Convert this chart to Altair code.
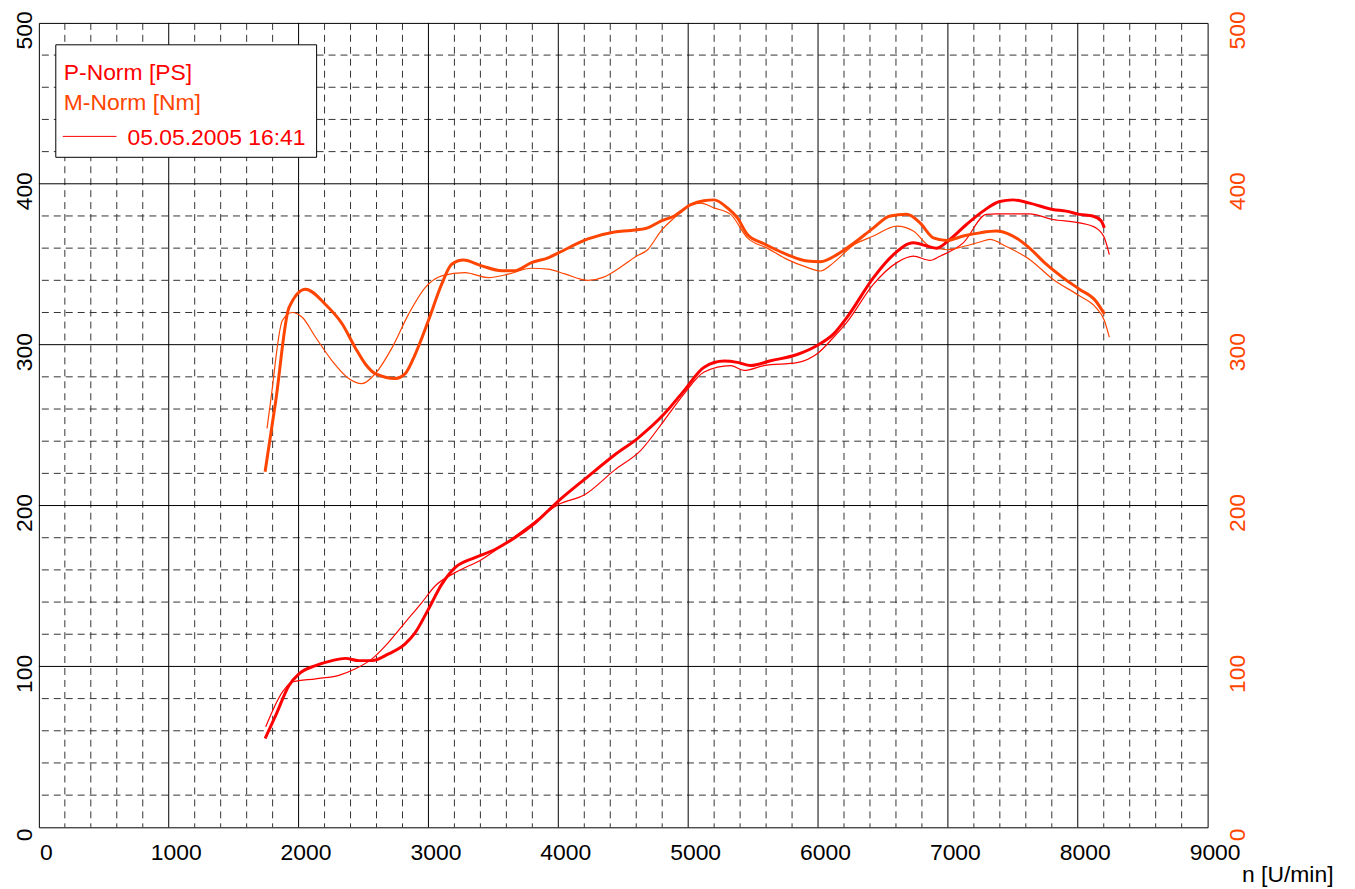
import altair as alt
import pandas as pd

FONT = "Liberation Sans"
RED = "#FF0000"
ORANGE = "#FF4500"

# ---- data ----
rpm_p_thick = [1742, 1824, 1926, 2003, 2131, 2258, 2360, 2463, 2565, 2693, 2821, 2898, 3000, 3102, 3205,
               3358, 3512, 3665, 3818, 3998, 4228, 4433, 4611, 4816, 4970, 5123, 5277, 5379, 5481, 5635,
               5839, 5993, 6120, 6223, 6427, 6581, 6734, 6837, 6913, 7015, 7143, 7271, 7399, 7501, 7629,
               7808, 7910, 8012, 8115, 8179, 8205]
p_thick = [55.2, 69.6, 88.2, 95.4, 100.5, 103.6, 105, 103.6, 103.6, 107.8, 114, 121, 135.6, 151, 161.4,
           167.6, 172.7, 180, 189, 202.6, 218, 231.4, 241.8, 257, 271.6, 286, 289.8, 289, 287, 290,
           293.9, 299.5, 306.7, 317, 341.7, 356, 363.3, 361.3, 360, 365.4, 374.7, 383, 389, 390, 388,
           384, 383, 381, 380, 377, 372.6]

rpm_p_thin = [1747, 1875, 1951, 2131, 2310, 2437, 2565, 2693, 2821, 2949, 3051, 3205, 3410, 3614, 3818,
              3998, 4202, 4433, 4637, 4816, 4970, 5123, 5327, 5430, 5584, 5839, 5993, 6120, 6223, 6427,
              6607, 6734, 6862, 6939, 7118, 7296, 7373, 7629, 7808, 8012, 8140, 8205, 8243]
p_thin = [62.5, 84, 90.3, 92.3, 94.4, 98.5, 104.7, 115, 127.4, 139.7, 150, 158.3, 166.5, 177.8, 190,
          200.5, 206.7, 222, 234.5, 253, 269.6, 283, 287, 284, 287, 288.8, 294.3, 304.6, 314, 337.6,
          351, 355, 352.4, 355, 363.3, 381, 381.3, 381.3, 377.8, 375.7, 372.6, 366.4, 356]

rpm_m_thick = [1742, 1824, 1926, 2054, 2207, 2335, 2437, 2514, 2591, 2745, 2821, 2898, 3000, 3102, 3179,
               3269, 3410, 3563, 3665, 3793, 3921, 4000, 4228, 4433, 4560, 4688, 4790, 4893, 5020, 5120,
               5200, 5302, 5379, 5456, 5584, 5762, 5916, 6018, 6146, 6274, 6427, 6555, 6683, 6785, 6888,
               6990, 7118, 7246, 7373, 7501, 7629, 7757, 7885, 8012, 8140, 8205]
m_thick = [221, 265, 323, 334.5, 325, 313, 298, 288, 282, 279, 282, 294, 315, 337.6, 350,
           352.6, 349, 346, 346, 351, 354, 357, 365.7, 370, 371, 372.6, 376.8, 380, 387, 389.5,
           390, 385, 378.8, 368.5, 362.7, 356, 352, 351.6, 356, 363, 372.6, 380, 381, 375.7, 366.4,
           364.8, 367.5, 369.5, 370.6, 367.5, 360, 350, 341.7, 334.5, 327, 319]

rpm_m_thin = [1757, 1785, 1875, 1951, 2028, 2131, 2258, 2386, 2488, 2591, 2719, 2847, 2975, 3102, 3281,
              3460, 3614, 3793, 3921, 4050, 4228, 4350, 4458, 4600, 4688, 4790, 4893, 5020, 5097, 5200,
              5327, 5456, 5609, 5762, 5916, 6018, 6120, 6274, 6427, 6607, 6734, 6862, 6990, 7118, 7246,
              7322, 7450, 7629, 7808, 8012, 8140, 8205, 8243]
m_thin = [248, 265, 315, 320, 317, 304.6, 290, 279, 275.8, 282, 298, 319, 335.5, 342.8, 344.8,
          341.7, 343.8, 347.5, 347, 344, 340, 342, 347, 355, 359, 370.6, 378.8, 387, 388, 385,
          381, 366.4, 360, 353, 348, 345.8, 351, 362, 367.5, 373.7, 370.6, 361, 359, 361, 363.8,
          365.4, 361, 353, 340.7, 330.4, 323, 315, 304.6]

x_labels = [0, 1000, 2000, 3000, 4000, 5000, 6000, 7000, 8000, 9000]
y_labels = [0, 100, 200, 300, 400, 500]

rows = []
for qty, run, xs, ys in [
    ("P-Norm [PS]", "thin", rpm_p_thin, p_thin),
    ("M-Norm [Nm]", "thin", rpm_m_thin, m_thin),
    ("P-Norm [PS]", "thick", rpm_p_thick, p_thick),
    ("M-Norm [Nm]", "thick", rpm_m_thick, m_thick),
]:
    for i, (x, y) in enumerate(zip(xs, ys)):
        rows.append({"rpm": x, "val": y, "qty": qty, "run": run, "key": qty + run, "i": i})
df = pd.DataFrame(rows)

XS = alt.Scale(domain=[0, 9000], nice=False, zero=False)
YS = alt.Scale(domain=[0, 500], nice=False, zero=False)

AX_X = alt.Axis(values=x_labels, format="d", ticks=False, domain=False, grid=False,
                labelFont=FONT, labelFontSize=23, labelColor="black",
                labelPadding=14, labelOffset=7, labelFlush=False,
                title="n [U/min]", titleFont=FONT, titleFontSize=23,
                titleFontWeight="normal", titleColor="black",
                titleAlign="left", titleBaseline="alphabetic",
                titleX=1208, titleY=54)
AX_Y = alt.Axis(values=y_labels, format="d", ticks=False, domain=False, grid=False,
                labelFont=FONT, labelFontSize=23, labelColor="black",
                labelAngle=270, labelAlign="center", labelBaseline="bottom",
                labelPadding=2, labelOffset=7, labelFlush=False, title=None)

minor_x = pd.DataFrame({"rpm": [v for v in range(200, 9000, 200) if v % 1000]})
major_x = pd.DataFrame({"rpm": list(range(1000, 9000, 1000))})
minor_y = pd.DataFrame({"val": [v for v in range(20, 500, 20) if v % 100]})
major_y = pd.DataFrame({"val": list(range(100, 500, 100))})

grid_minor_x = alt.Chart(minor_x).mark_rule(color="#333333", strokeWidth=1, strokeDash=[7, 5]).encode(
    x=alt.X("rpm:Q", scale=XS, axis=AX_X))
grid_minor_y = alt.Chart(minor_y).mark_rule(color="#333333", strokeWidth=1, strokeDash=[7, 5]).encode(
    y=alt.Y("val:Q", scale=YS, axis=AX_Y))
grid_major_x = alt.Chart(major_x).mark_rule(color="black", strokeWidth=1).encode(
    x=alt.X("rpm:Q", scale=XS, axis=AX_X))
grid_major_y = alt.Chart(major_y).mark_rule(color="black", strokeWidth=1).encode(
    y=alt.Y("val:Q", scale=YS, axis=AX_Y))

lines = alt.Chart(df).mark_line(interpolate="monotone").encode(
    x=alt.X("rpm:Q", scale=XS, axis=AX_X),
    y=alt.Y("val:Q", scale=YS, axis=AX_Y),
    color=alt.Color("qty:N", scale=alt.Scale(domain=["P-Norm [PS]", "M-Norm [Nm]"], range=[RED, ORANGE]),
                    legend=None),
    strokeWidth=alt.StrokeWidth("run:N", scale=alt.Scale(domain=["thick", "thin"], range=[3, 1.2]),
                                legend=None),
    detail="key:N",
    order="i:Q",
)

one = pd.DataFrame({"a": [0]})
leg_box = alt.Chart(one).mark_rect(fill="white", stroke="black", strokeWidth=1).encode(
    x=alt.value(17), x2=alt.value(279), y=alt.value(22), y2=alt.value(135))
leg_t1 = alt.Chart(one).mark_text(text="P-Norm [PS]", font=FONT, fontSize=23, color=RED,
                                  align="left", baseline="alphabetic").encode(
    x=alt.value(25), y=alt.value(57))
leg_t2 = alt.Chart(one).mark_text(text="M-Norm [Nm]", font=FONT, fontSize=23, color=ORANGE,
                                  align="left", baseline="alphabetic").encode(
    x=alt.value(25), y=alt.value(87))
leg_rule = alt.Chart(one).mark_rule(color=RED, strokeWidth=1).encode(
    x=alt.value(24), x2=alt.value(78), y=alt.value(114))
leg_t3 = alt.Chart(one).mark_text(text="05.05.2005 16:41", font=FONT, fontSize=23, color=RED,
                                  align="left", baseline="alphabetic").encode(
    x=alt.value(89), y=alt.value(123))

main = alt.layer(grid_minor_x, grid_minor_y, grid_major_x, grid_major_y, lines,
                 leg_box, leg_t1, leg_t2, leg_rule, leg_t3)

right = alt.Chart(pd.DataFrame({"v": [0, 500]})).mark_rule(strokeOpacity=0).encode(
    y=alt.Y("v:Q", scale=YS,
            axis=alt.Axis(orient="right", values=y_labels, format="d", ticks=False, domain=False,
                          grid=False, labelFont=FONT, labelFontSize=23, labelColor=ORANGE,
                          labelAngle=270, labelAlign="center", labelBaseline="top",
                          labelPadding=19, labelOffset=7, labelFlush=False, title=None)))

chart = alt.layer(main, right).resolve_scale(y="independent").properties(
    width=1174, height=808,
    autosize=alt.AutoSizeParams(type="none"),
    padding={"left": 31, "top": 13, "right": 140, "bottom": 60},
).configure(background="white", view=alt.ViewConfig(stroke="black", strokeWidth=1))

chart.save("out.html", embed_options={"renderer": "svg", "actions": False})
